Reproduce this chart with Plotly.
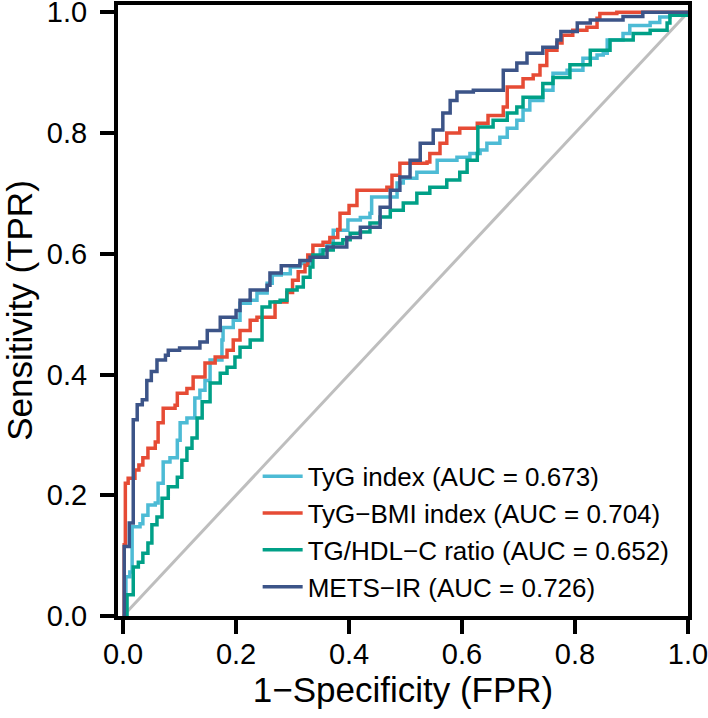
import plotly.graph_objects as go

# ---- data ----
series_names = [
    "TyG index (AUC = 0.673)",
    "TyG\u2212BMI index (AUC = 0.704)",
    "TG/HDL\u2212C ratio (AUC = 0.652)",
    "METS\u2212IR (AUC = 0.726)",
]
series_colors = ["#4DBBD5", "#E64B35", "#00A087", "#3C5488"]

tyg_fpr = [0, 0.005, 0.012, 0.016, 0.03, 0.035, 0.044, 0.057, 0.062, 0.071, 0.083, 0.096, 0.101, 0.113,
           0.127, 0.136, 0.145, 0.154, 0.175, 0.177, 0.195, 0.207, 0.225, 0.237, 0.255, 0.264, 0.28, 0.296,
           0.313, 0.331, 0.349, 0.361, 0.372, 0.398, 0.42, 0.437, 0.44, 0.481, 0.485, 0.496, 0.52, 0.556,
           0.591, 0.614, 0.632, 0.644, 0.667, 0.68, 0.697, 0.708, 0.72, 0.743, 0.761, 0.786, 0.814, 0.839,
           0.85, 0.857, 0.885, 0.897, 0.933, 0.95, 0.968, 1.0]
tyg_tpr = [0, 0.065, 0.073, 0.148, 0.153, 0.167, 0.184, 0.187, 0.22, 0.255, 0.262, 0.291, 0.32, 0.328,
           0.361, 0.374, 0.39, 0.424, 0.457, 0.478, 0.49, 0.518, 0.523, 0.535, 0.551, 0.565, 0.567, 0.578,
           0.584, 0.594, 0.606, 0.617, 0.639, 0.656, 0.66, 0.667, 0.694, 0.694, 0.717, 0.725, 0.735, 0.755,
           0.76, 0.766, 0.772, 0.783, 0.793, 0.808, 0.821, 0.838, 0.854, 0.871, 0.899, 0.904, 0.924, 0.929,
           0.932, 0.954, 0.965, 0.978, 0.983, 0.992, 0.998, 1.0]

bmi_fpr = [0, 0.002, 0.004, 0.009, 0.021, 0.028, 0.035, 0.044, 0.057, 0.062, 0.071, 0.092, 0.096, 0.113,
           0.124, 0.145, 0.163, 0.184, 0.195, 0.207, 0.225, 0.237, 0.265, 0.269, 0.29, 0.30, 0.31, 0.322,
           0.327, 0.336, 0.354, 0.366, 0.38, 0.384, 0.40, 0.414, 0.467, 0.476, 0.49, 0.538, 0.543, 0.561,
           0.573, 0.596, 0.627, 0.646, 0.673, 0.68, 0.708, 0.726, 0.738, 0.75, 0.768, 0.777, 0.796, 0.821,
           0.839, 0.844, 0.874, 1.0]
bmi_tpr = [0, 0.118, 0.22, 0.228, 0.242, 0.25, 0.262, 0.278, 0.288, 0.32, 0.344, 0.349, 0.369, 0.377,
           0.396, 0.419, 0.429, 0.44, 0.457, 0.473, 0.49, 0.495, 0.495, 0.52, 0.536, 0.556, 0.57, 0.581,
           0.598, 0.614, 0.619, 0.627, 0.64, 0.667, 0.68, 0.705, 0.71, 0.73, 0.75, 0.752, 0.766, 0.783,
           0.8, 0.808, 0.816, 0.829, 0.843, 0.876, 0.89, 0.896, 0.912, 0.937, 0.949, 0.962, 0.97, 0.975,
           0.99, 0.998, 1.0, 1.0]

tg_fpr = [0, 0.007, 0.018, 0.027, 0.035, 0.044, 0.051, 0.06, 0.069, 0.08, 0.096, 0.104, 0.113, 0.122,
          0.131, 0.14, 0.154, 0.172, 0.184, 0.198, 0.207, 0.225, 0.242, 0.246, 0.26, 0.278, 0.29, 0.308,
          0.319, 0.331, 0.336, 0.354, 0.372, 0.389, 0.402, 0.42, 0.437, 0.455, 0.473, 0.496, 0.52, 0.543,
          0.573, 0.596, 0.609, 0.627, 0.628, 0.655, 0.68, 0.697, 0.708, 0.743, 0.761, 0.791, 0.827, 0.862,
          0.903, 0.933, 0.963, 0.968, 1.0]
tg_tpr = [0, 0.035, 0.081, 0.089, 0.104, 0.121, 0.151, 0.164, 0.195, 0.214, 0.23, 0.258, 0.278, 0.295,
          0.328, 0.355, 0.386, 0.402, 0.412, 0.429, 0.445, 0.457, 0.457, 0.512, 0.52, 0.523, 0.54, 0.545,
          0.561, 0.578, 0.598, 0.606, 0.617, 0.623, 0.634, 0.636, 0.651, 0.661, 0.672, 0.684, 0.7, 0.71,
          0.722, 0.735, 0.755, 0.766, 0.81, 0.821, 0.833, 0.843, 0.859, 0.882, 0.892, 0.913, 0.937, 0.954,
          0.965, 0.97, 0.982, 0.995, 1.0]

mets_fpr = [0, 0.002, 0.011, 0.018, 0.025, 0.034, 0.042, 0.05, 0.06, 0.075, 0.08, 0.1, 0.136, 0.149,
            0.172, 0.2, 0.207, 0.225, 0.255, 0.26, 0.28, 0.313, 0.331, 0.361, 0.396, 0.42, 0.455, 0.473,
            0.49, 0.508, 0.526, 0.549, 0.566, 0.579, 0.591, 0.62, 0.673, 0.673, 0.697, 0.715, 0.743, 0.768,
            0.775, 0.804, 0.827, 0.874, 0.885, 0.92, 1.0]
mets_tpr = [0, 0.115, 0.154, 0.325, 0.35, 0.358, 0.39, 0.405, 0.424, 0.432, 0.44, 0.444, 0.454, 0.473,
            0.495, 0.506, 0.523, 0.54, 0.548, 0.568, 0.58, 0.589, 0.594, 0.611, 0.627, 0.644, 0.677, 0.705,
            0.727, 0.755, 0.783, 0.805, 0.833, 0.854, 0.868, 0.871, 0.879, 0.904, 0.916, 0.932, 0.942, 0.954,
            0.968, 0.982, 0.987, 0.987, 0.993, 1.0, 1.0]

ref_line = [0, 1]
x_ticks = [0.0, 0.2, 0.4, 0.6, 0.8, 1.0]
y_ticks = [0.0, 0.2, 0.4, 0.6, 0.8, 1.0]
x_title = "1\u2212Specificity (FPR)"
y_title = "Sensitivity (TPR)"

FONT = "Liberation Sans, Arial, Helvetica, sans-serif"

fig = go.Figure()
fig.add_trace(go.Scatter(x=ref_line, y=ref_line, mode="lines",
                         line=dict(color="#BEBEBE", width=3), showlegend=False, hoverinfo="skip"))

all_x = [tyg_fpr, bmi_fpr, tg_fpr, mets_fpr]
all_y = [tyg_tpr, bmi_tpr, tg_tpr, mets_tpr]
for name, col, xs, ys in zip(series_names, series_colors, all_x, all_y):
    fig.add_trace(go.Scatter(x=xs, y=ys, mode="lines", name=name,
                             line=dict(color=col, width=3.5, shape="hv")))

axis_common = dict(
    showgrid=False, zeroline=False, showline=True, linecolor="black", linewidth=4, mirror=True,
    ticks="outside", ticklen=14, tickwidth=4, tickcolor="black", automargin=False,
    ticklabeloverflow="allow",
    tickfont=dict(family=FONT, size=29, color="black"),
    title_font=dict(family=FONT, size=35, color="black"),
)
fig.update_xaxes(range=[-0.009, 1.0], tickvals=x_ticks, ticktext=[f"{v:.1f}" for v in x_ticks],
                 title_text=x_title, title_standoff=6, ticklabelstandoff=-5, **axis_common)
fig.update_yaxes(range=[0, 1.012], tickvals=y_ticks, ticktext=[f"{v:.1f}" for v in y_ticks],
                 title_text=y_title, title_standoff=15, ticklabelstandoff=7, **axis_common)

fig.update_layout(
    width=708, height=718,
    margin=dict(l=118, r=20, t=5, b=102),
    paper_bgcolor="white", plot_bgcolor="white",
    font=dict(family=FONT, color="black"),
    legend=dict(x=0.245, y=0.267, xanchor="left", yanchor="top", bgcolor="rgba(0,0,0,0)",
                font=dict(family=FONT, size=26, color="black"), itemwidth=40, tracegroupgap=0),
)

fig.write_html("out.html", config={"displayModeBar": False},
               post_script="document.body.style.margin='0';document.body.style.overflow='hidden';")
